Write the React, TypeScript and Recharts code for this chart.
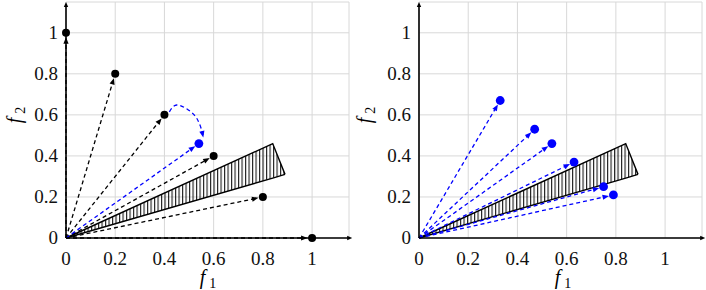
import React from "react";
import { Area, CartesianGrid, ComposedChart, ReferenceLine, Scatter, XAxis, YAxis } from "recharts";

const SERIF = "'Liberation Serif', serif";

const ticks = [0, 0.2, 0.4, 0.6, 0.8, 1];
const axisMax = 1.15;

// left panel: black points on the simplex, one blue projected point
const leftBlackX = [0, 0.2, 0.4, 0.6, 0.8, 1];
const leftBlackY = [1, 0.8, 0.6, 0.4, 0.2, 0];
const leftBlueX = [0.54];
const leftBlueY = [0.46];
// dashed blue detour from (0.4, 0.6) to the blue point
const detourX = [0.42, 0.45, 0.497, 0.531, 0.551, 0.558];
const detourY = [0.615, 0.648, 0.624, 0.584, 0.527, 0.49];

// right panel: blue points
const rightBlueX = [0.33, 0.47, 0.54, 0.63, 0.75, 0.79];
const rightBlueY = [0.67, 0.53, 0.46, 0.37, 0.25, 0.21];

// hatched cone
const coneX = [0, 0.84, 0.89];
const coneLow = [0, 0.292, 0.31];
const coneHigh = [0, 0.46, 0.31];

const zip = (xs: number[], ys: number[]) => xs.map((x, i) => ({ x, y: ys[i] }));
const cone = coneX.map((x, i) => ({ x, band: [coneLow[i], coneHigh[i]] }));
const detour = zip(detourX, detourY);

function makeArrow(
  color: string,
  dashed: boolean,
  gap: number,
  head = 6.5,
  half = 2.6,
  width = 1.3,
  headOnly = false
) {
  return (p: any) => {
    const { x1, y1, x2, y2 } = p;
    const dx = x2 - x1;
    const dy = y2 - y1;
    const len = Math.hypot(dx, dy) || 1;
    const ux = dx / len;
    const uy = dy / len;
    const tx = x2 - ux * gap;
    const ty = y2 - uy * gap;
    const bx = tx - ux * head;
    const by = ty - uy * head;
    const pts = `${tx},${ty} ${bx - uy * half},${by + ux * half} ${bx + uy * half},${by - ux * half}`;
    return (
      <g>
        {!headOnly && (
          <line
            x1={x1}
            y1={y1}
            x2={bx + ux}
            y2={by + uy}
            stroke={color}
            strokeWidth={width}
            strokeDasharray={dashed ? "4 3" : undefined}
          />
        )}
        <polygon points={pts} fill={color} />
      </g>
    );
  };
}

const dot = (color: string, r: number) => (p: any) => <circle cx={p.cx} cy={p.cy} r={r} fill={color} />;

const tickCss: React.CSSProperties = { fontFamily: SERIF, fontSize: 19, fill: "#111" };

const XTick = (p: any) => (
  <text x={p.x} y={p.y + 17} textAnchor="middle" style={tickCss}>
    {String(p.payload.value)}
  </text>
);
const YTick = (p: any) => (
  <text x={p.x} y={p.y + 6} textAnchor="end" style={tickCss}>
    {String(p.payload.value)}
  </text>
);

function Panel({
  id,
  width,
  left,
  right,
  black,
  blue,
  withDetour,
}: {
  id: string;
  width: number;
  left: number;
  right: number;
  black: { x: number; y: number }[];
  blue: { x: number; y: number }[];
  withDetour: boolean;
}) {
  return (
    <ComposedChart width={width} height={290} margin={{ top: 2, right, bottom: 22, left }}>
      <defs>
        <pattern id={id} width={3.5} height={4} patternUnits="userSpaceOnUse">
          <line x1={0.6} y1={0} x2={0.6} y2={4} stroke="#000" strokeWidth={1} />
        </pattern>
      </defs>
      <CartesianGrid stroke="#d8d8d8" strokeWidth={1} />
      <XAxis
        type="number"
        dataKey="x"
        domain={[0, axisMax]}
        ticks={ticks}
        axisLine={false}
        tickLine={false}
        height={30}
        tickMargin={4}
        tick={<XTick />}
      />
      <YAxis
        type="number"
        dataKey="y"
        domain={[0, axisMax]}
        ticks={ticks}
        axisLine={false}
        tickLine={false}
        width={50}
        tick={<YTick />}
      />
      <Area
        data={cone}
        dataKey="band"
        type="linear"
        stroke="#000"
        strokeWidth={1.4}
        fill={`url(#${id})`}
        fillOpacity={1}
        dot={false}
        activeDot={false}
        isAnimationActive={false}
      />
      {black.map((p, i) => (
        <ReferenceLine
          key={"b" + i}
          segment={[{ x: 0, y: 0 }, p]}
          ifOverflow="visible"
          shape={makeArrow("#000", true, 4.5)}
        />
      ))}
      {blue.map((p, i) => (
        <ReferenceLine
          key={"u" + i}
          segment={[{ x: 0, y: 0 }, p]}
          ifOverflow="visible"
          shape={makeArrow("#0000ff", true, 4.5)}
        />
      ))}
      {withDetour && (
        <Scatter
          data={detour}
          dataKey="y"
          line={{ stroke: "#0000ff", strokeWidth: 1.3, strokeDasharray: "4 3" }}
          lineType="joint"
          lineJointType="natural"
          shape={() => <g />}
          isAnimationActive={false}
        />
      )}
      {withDetour && (
        <ReferenceLine
          segment={[detour[detour.length - 2], detour[detour.length - 1]]}
          ifOverflow="visible"
          shape={makeArrow("#0000ff", false, 0, 6.5, 2.6, 1.3, true)}
        />
      )}
      <ReferenceLine
        segment={[{ x: 0, y: 0 }, { x: 1.163, y: 0 }]}
        ifOverflow="visible"
        shape={makeArrow("#000", false, 0, 5, 2.2, 1.6)}
      />
      <ReferenceLine
        segment={[{ x: 0, y: 0 }, { x: 0, y: 1.15 }]}
        ifOverflow="visible"
        shape={makeArrow("#000", false, 0, 5, 2.2, 1.6)}
      />
      <Scatter data={black} dataKey="y" shape={dot("#000", 4)} isAnimationActive={false} />
      <Scatter data={blue} dataKey="y" shape={dot("#0000ff", 4.4)} isAnimationActive={false} />
    </ComposedChart>
  );
}

// f with a subscript, as in the axis titles
function F({ sub }: { sub: string }) {
  return (
    <span style={{ fontFamily: SERIF, fontSize: 20, whiteSpace: "nowrap" }}>
      <i>f</i>
      <span style={{ fontSize: 14, position: "relative", top: 4, marginLeft: 4 }}>{sub}</span>
    </span>
  );
}

const labelX = (cx: number): React.CSSProperties => ({
  position: "absolute",
  left: cx,
  top: 267,
  lineHeight: "20px",
  transform: "translateX(-50%)",
});
const labelY = (cx: number): React.CSSProperties => ({
  position: "absolute",
  left: cx,
  top: 115,
  lineHeight: "20px",
  transform: "translate(-50%, -50%) rotate(-90deg)",
});

export default function App() {
  return (
    <div style={{ position: "absolute", left: 0, top: 0, width: 706, height: 290, background: "#fff" }}>
      <div style={{ position: "absolute", left: 0, top: 0 }}>
        <Panel
          id="hatchL"
          width={355}
          left={16}
          right={6}
          black={zip(leftBlackX, leftBlackY)}
          blue={zip(leftBlueX, leftBlueY)}
          withDetour
        />
      </div>
      <div style={{ position: "absolute", left: 355, top: 0 }}>
        <Panel
          id="hatchR"
          width={351}
          left={14}
          right={4}
          black={[]}
          blue={zip(rightBlueX, rightBlueY)}
          withDetour={false}
        />
      </div>
      <div style={labelX(208)}>
        <F sub="1" />
      </div>
      <div style={labelY(15)}>
        <F sub="2" />
      </div>
      <div style={labelX(563)}>
        <F sub="1" />
      </div>
      <div style={labelY(365)}>
        <F sub="2" />
      </div>
    </div>
  );
}
